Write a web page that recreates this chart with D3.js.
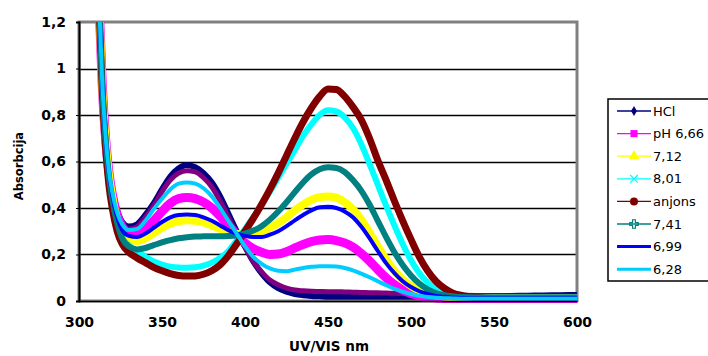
<!DOCTYPE html>
<html>
<head>
<meta charset="utf-8">
<script src="https://cdn.jsdelivr.net/npm/d3@7"></script>
<style>
  html, body { margin: 0; padding: 0; background: #fff; }
  svg { display: block; }
  .tick text { font-family: "DejaVu Sans", sans-serif; font-weight: bold; font-size: 14px; fill: #000; }
</style>
</head>
<body>
<svg id="chart" width="708" height="356"></svg>
<script>
// Wavelengths (nm) shared by every spectrum
const wavelengths = [312,314,316,318,320,323,326,330,335,340,345,350,355,360,365,370,375,380,385,390,395,400,405,410,415,420,425,430,435,440,445,450,455,460,465,470,475,480,485,490,495,500,505,510,515,520,525,530,540,550,560,570,580,590,600];

// Absorbance values per spectrum
const hcl    = [1.32,0.95,0.72,0.57,0.48,0.39,0.34,0.32,0.33,0.37,0.42,0.48,0.535,0.57,0.585,0.575,0.55,0.51,0.45,0.375,0.30,0.235,0.17,0.12,0.08,0.055,0.04,0.03,0.025,0.022,0.02,0.018,0.018,0.018,0.018,0.018,0.018,0.018,0.018,0.018,0.018,0.018,0.018,0.018,0.018,0.018,0.018,0.019,0.02,0.021,0.022,0.023,0.024,0.025,0.026];
const hclB   = [1.30,0.93,0.71,0.56,0.47,0.385,0.335,0.31,0.32,0.36,0.41,0.47,0.52,0.55,0.56,0.555,0.53,0.49,0.43,0.36,0.29,0.23,0.17,0.125,0.09,0.07,0.055,0.047,0.044,0.042,0.041,0.04,0.04,0.039,0.038,0.037,0.036,0.035,0.034,0.033,0.032,0.031,0.03,0.029,0.028,0.027,0.026,0.025,0.024,0.023,0.022,0.021,0.02,0.02,0.02];
const ph666  = [1.30,0.93,0.70,0.555,0.46,0.37,0.32,0.29,0.29,0.31,0.345,0.385,0.42,0.44,0.445,0.44,0.425,0.40,0.365,0.325,0.285,0.25,0.225,0.21,0.2,0.202,0.212,0.228,0.243,0.255,0.262,0.264,0.26,0.25,0.232,0.205,0.172,0.135,0.1,0.07,0.047,0.032,0.022,0.016,0.013,0.011,0.01,0.009,0.008,0.008,0.008,0.008,0.008,0.008,0.008];
const ph712  = [1.30,0.92,0.695,0.545,0.45,0.35,0.29,0.262,0.258,0.27,0.292,0.315,0.333,0.343,0.347,0.345,0.338,0.325,0.31,0.297,0.288,0.288,0.292,0.3,0.315,0.335,0.36,0.39,0.415,0.435,0.447,0.45,0.445,0.425,0.395,0.35,0.295,0.235,0.178,0.13,0.092,0.065,0.045,0.032,0.024,0.019,0.016,0.014,0.013,0.013,0.013,0.013,0.013,0.013,0.013];
const ph801  = [1.29,0.91,0.68,0.52,0.42,0.32,0.27,0.24,0.215,0.19,0.17,0.157,0.148,0.144,0.143,0.145,0.152,0.165,0.185,0.215,0.26,0.31,0.36,0.415,0.47,0.53,0.59,0.65,0.71,0.76,0.8,0.82,0.815,0.79,0.745,0.675,0.59,0.5,0.41,0.325,0.245,0.175,0.12,0.08,0.052,0.035,0.025,0.02,0.016,0.015,0.015,0.015,0.015,0.015,0.015];
const anjons = [1.28,0.90,0.66,0.50,0.40,0.30,0.245,0.21,0.185,0.165,0.145,0.13,0.118,0.11,0.107,0.108,0.115,0.13,0.155,0.195,0.245,0.30,0.355,0.415,0.48,0.55,0.625,0.70,0.77,0.83,0.88,0.912,0.91,0.88,0.835,0.78,0.70,0.605,0.52,0.43,0.345,0.265,0.19,0.13,0.085,0.055,0.035,0.025,0.015,0.012,0.012,0.012,0.012,0.012,0.012];
const ph741  = [1.29,0.92,0.69,0.54,0.44,0.335,0.27,0.235,0.222,0.228,0.24,0.252,0.262,0.27,0.274,0.277,0.278,0.279,0.279,0.28,0.283,0.29,0.303,0.322,0.35,0.385,0.425,0.468,0.51,0.545,0.567,0.575,0.572,0.555,0.52,0.475,0.415,0.345,0.275,0.21,0.155,0.11,0.075,0.05,0.034,0.025,0.02,0.017,0.015,0.015,0.015,0.015,0.015,0.015,0.015];
const ph699  = [1.30,0.93,0.70,0.55,0.455,0.36,0.305,0.28,0.275,0.29,0.315,0.34,0.36,0.37,0.372,0.37,0.36,0.345,0.325,0.305,0.29,0.28,0.275,0.275,0.285,0.30,0.322,0.347,0.37,0.39,0.403,0.405,0.40,0.385,0.36,0.32,0.27,0.215,0.163,0.12,0.085,0.06,0.042,0.03,0.022,0.018,0.015,0.013,0.012,0.012,0.012,0.012,0.012,0.012,0.012];
const ph628  = [1.31,0.94,0.71,0.56,0.47,0.38,0.33,0.305,0.31,0.345,0.395,0.44,0.48,0.505,0.51,0.505,0.485,0.45,0.40,0.345,0.29,0.235,0.19,0.16,0.14,0.13,0.128,0.135,0.142,0.147,0.15,0.15,0.148,0.142,0.132,0.118,0.102,0.085,0.068,0.052,0.04,0.03,0.022,0.017,0.014,0.012,0.011,0.01,0.01,0.01,0.01,0.01,0.01,0.01,0.01];

// Axis ticks
const xTicks = [300,350,400,450,500,550,600];
const yTicks = [0,0.2,0.4,0.6,0.8,1,1.2];

// Series in drawing order (later ones paint on top)
const series = [
  {name: "HCl",     values: hcl,    color: "#000080", width: 6, marker: "diamond", legend: true},
  {name: "HCl (2)", values: hclB,   color: "#800080", width: 5, marker: null,      legend: false},
  {name: "pH 6,66", values: ph666,  color: "#FF00FF", width: 9, marker: "square",  legend: true},
  {name: "7,12",    values: ph712,  color: "#FFFF00", width: 8, marker: "triangle",legend: true},
  {name: "8,01",    values: ph801,  color: "#00FFFF", width: 6, marker: "cross",   legend: true},
  {name: "anjons",  values: anjons, color: "#800000", width: 7, marker: "circle",  legend: true},
  {name: "7,41",    values: ph741,  color: "#008080", width: 6, marker: "plus",    legend: true},
  {name: "6,99",    values: ph699,  color: "#0000FF", width: 4, marker: null,      legend: true},
  {name: "6,28",    values: ph628,  color: "#00CCFF", width: 4, marker: null,      legend: true}
];

const svg = d3.select("#chart");
const plot = {left: 79, top: 22, right: 577, bottom: 301};

const x = d3.scaleLinear().domain([300, 600]).range([plot.left, plot.right]);
const y = d3.scaleLinear().domain([0, 1.2]).range([plot.bottom, plot.top]);

// Gridlines
svg.append("g")
  .selectAll("line")
  .data(yTicks.filter(d => d > 0 && d < 1.2))
  .join("line")
  .attr("x1", plot.left).attr("x2", plot.right)
  .attr("y1", d => Math.round(y(d)) + 0.5).attr("y2", d => Math.round(y(d)) + 0.5)
  .attr("stroke", "#000").attr("stroke-width", 1.5);

// Plot frame (grey top/right)
svg.append("rect")
  .attr("x", plot.left).attr("y", plot.top)
  .attr("width", plot.right - plot.left).attr("height", plot.bottom - plot.top)
  .attr("fill", "none").attr("stroke", "#808080").attr("stroke-width", 3);

// Clip region for spectra
svg.append("clipPath").attr("id", "clip")
  .append("rect")
  .attr("x", plot.left).attr("y", plot.top)
  .attr("width", plot.right - plot.left + 4).attr("height", plot.bottom - plot.top + 2);

const line = d3.line()
  .x((d, i) => x(wavelengths[i]))
  .y(d => y(d))
  .curve(d3.curveMonotoneX);

svg.append("g").attr("clip-path", "url(#clip)")
  .selectAll("path")
  .data(series)
  .join("path")
  .attr("d", s => line(s.values))
  .attr("fill", "none")
  .attr("stroke", s => s.color)
  .attr("stroke-width", s => s.width)
  .attr("stroke-linejoin", "round");

// Axes
const yAxis = d3.axisLeft(y).tickValues(yTicks).tickSize(3).tickPadding(10)
  .tickFormat(d => d3.format("~g")(d).replace(".", ","));
const gy = svg.append("g").attr("transform", `translate(${plot.left},0)`).call(yAxis);
gy.select(".domain").attr("stroke", "#000").attr("stroke-width", 2);
gy.selectAll(".tick line").attr("stroke", "#000");

const xAxis = d3.axisBottom(x).tickValues(xTicks).tickSize(0).tickPadding(16);
const gx = svg.append("g").attr("transform", `translate(0,${plot.bottom})`).call(xAxis);
gx.select(".domain").attr("stroke", "#000").attr("stroke-width", 1.5);

// Axis titles
svg.append("text")
  .attr("transform", "translate(23,166) rotate(-90)")
  .attr("text-anchor", "middle")
  .attr("font-family", "DejaVu Sans, sans-serif").attr("font-weight", "bold").attr("font-size", 11.5)
  .text("Absorbcija");

svg.append("text")
  .attr("x", 329).attr("y", 346).attr("dy", "0.35em")
  .attr("text-anchor", "middle")
  .attr("font-family", "DejaVu Sans, sans-serif").attr("font-weight", "bold").attr("font-size", 13.5)
  .text("UV/VIS nm");

// Legend
const legend = svg.append("g");
legend.append("rect")
  .attr("x", 608).attr("y", 99).attr("width", 120).attr("height", 182)
  .attr("fill", "#fff").attr("stroke", "#000").attr("stroke-width", 1.5);

const items = series.filter(s => s.legend);
const row = legend.selectAll("g.item").data(items).join("g")
  .attr("class", "item")
  .attr("transform", (d, i) => `translate(0,${111 + i * 22.6})`);

row.append("line")
  .attr("x1", 617).attr("x2", 651).attr("y1", 0).attr("y2", 0)
  .attr("stroke", d => d.color)
  .attr("stroke-width", d => d.marker ? 1.3 : 3);

const symbolTypes = {
  diamond: d3.symbolDiamond, square: d3.symbolSquare, triangle: d3.symbolTriangle,
  circle: d3.symbolCircle, cross: d3.symbolX, plus: d3.symbolCross
};
row.filter(d => d.marker).append("path")
  .attr("transform", "translate(634,0)")
  .attr("d", d => d3.symbol().type(symbolTypes[d.marker])
      .size(d.marker === "plus" || d.marker === "cross" ? 40 : (d.marker === "diamond" ? 30 : 50))())
  .attr("fill", d => (d.marker === "plus" || d.marker === "cross") ? "none" : d.color)
  .attr("stroke", d => d.color)
  .attr("stroke-width", d => (d.marker === "plus" || d.marker === "cross") ? 1.2 : 0);

row.append("text")
  .attr("x", 653).attr("y", 0).attr("dy", "0.36em")
  .attr("font-family", "DejaVu Sans, sans-serif").attr("font-size", 13)
  .text(d => d.name);
</script>
</body>
</html>
